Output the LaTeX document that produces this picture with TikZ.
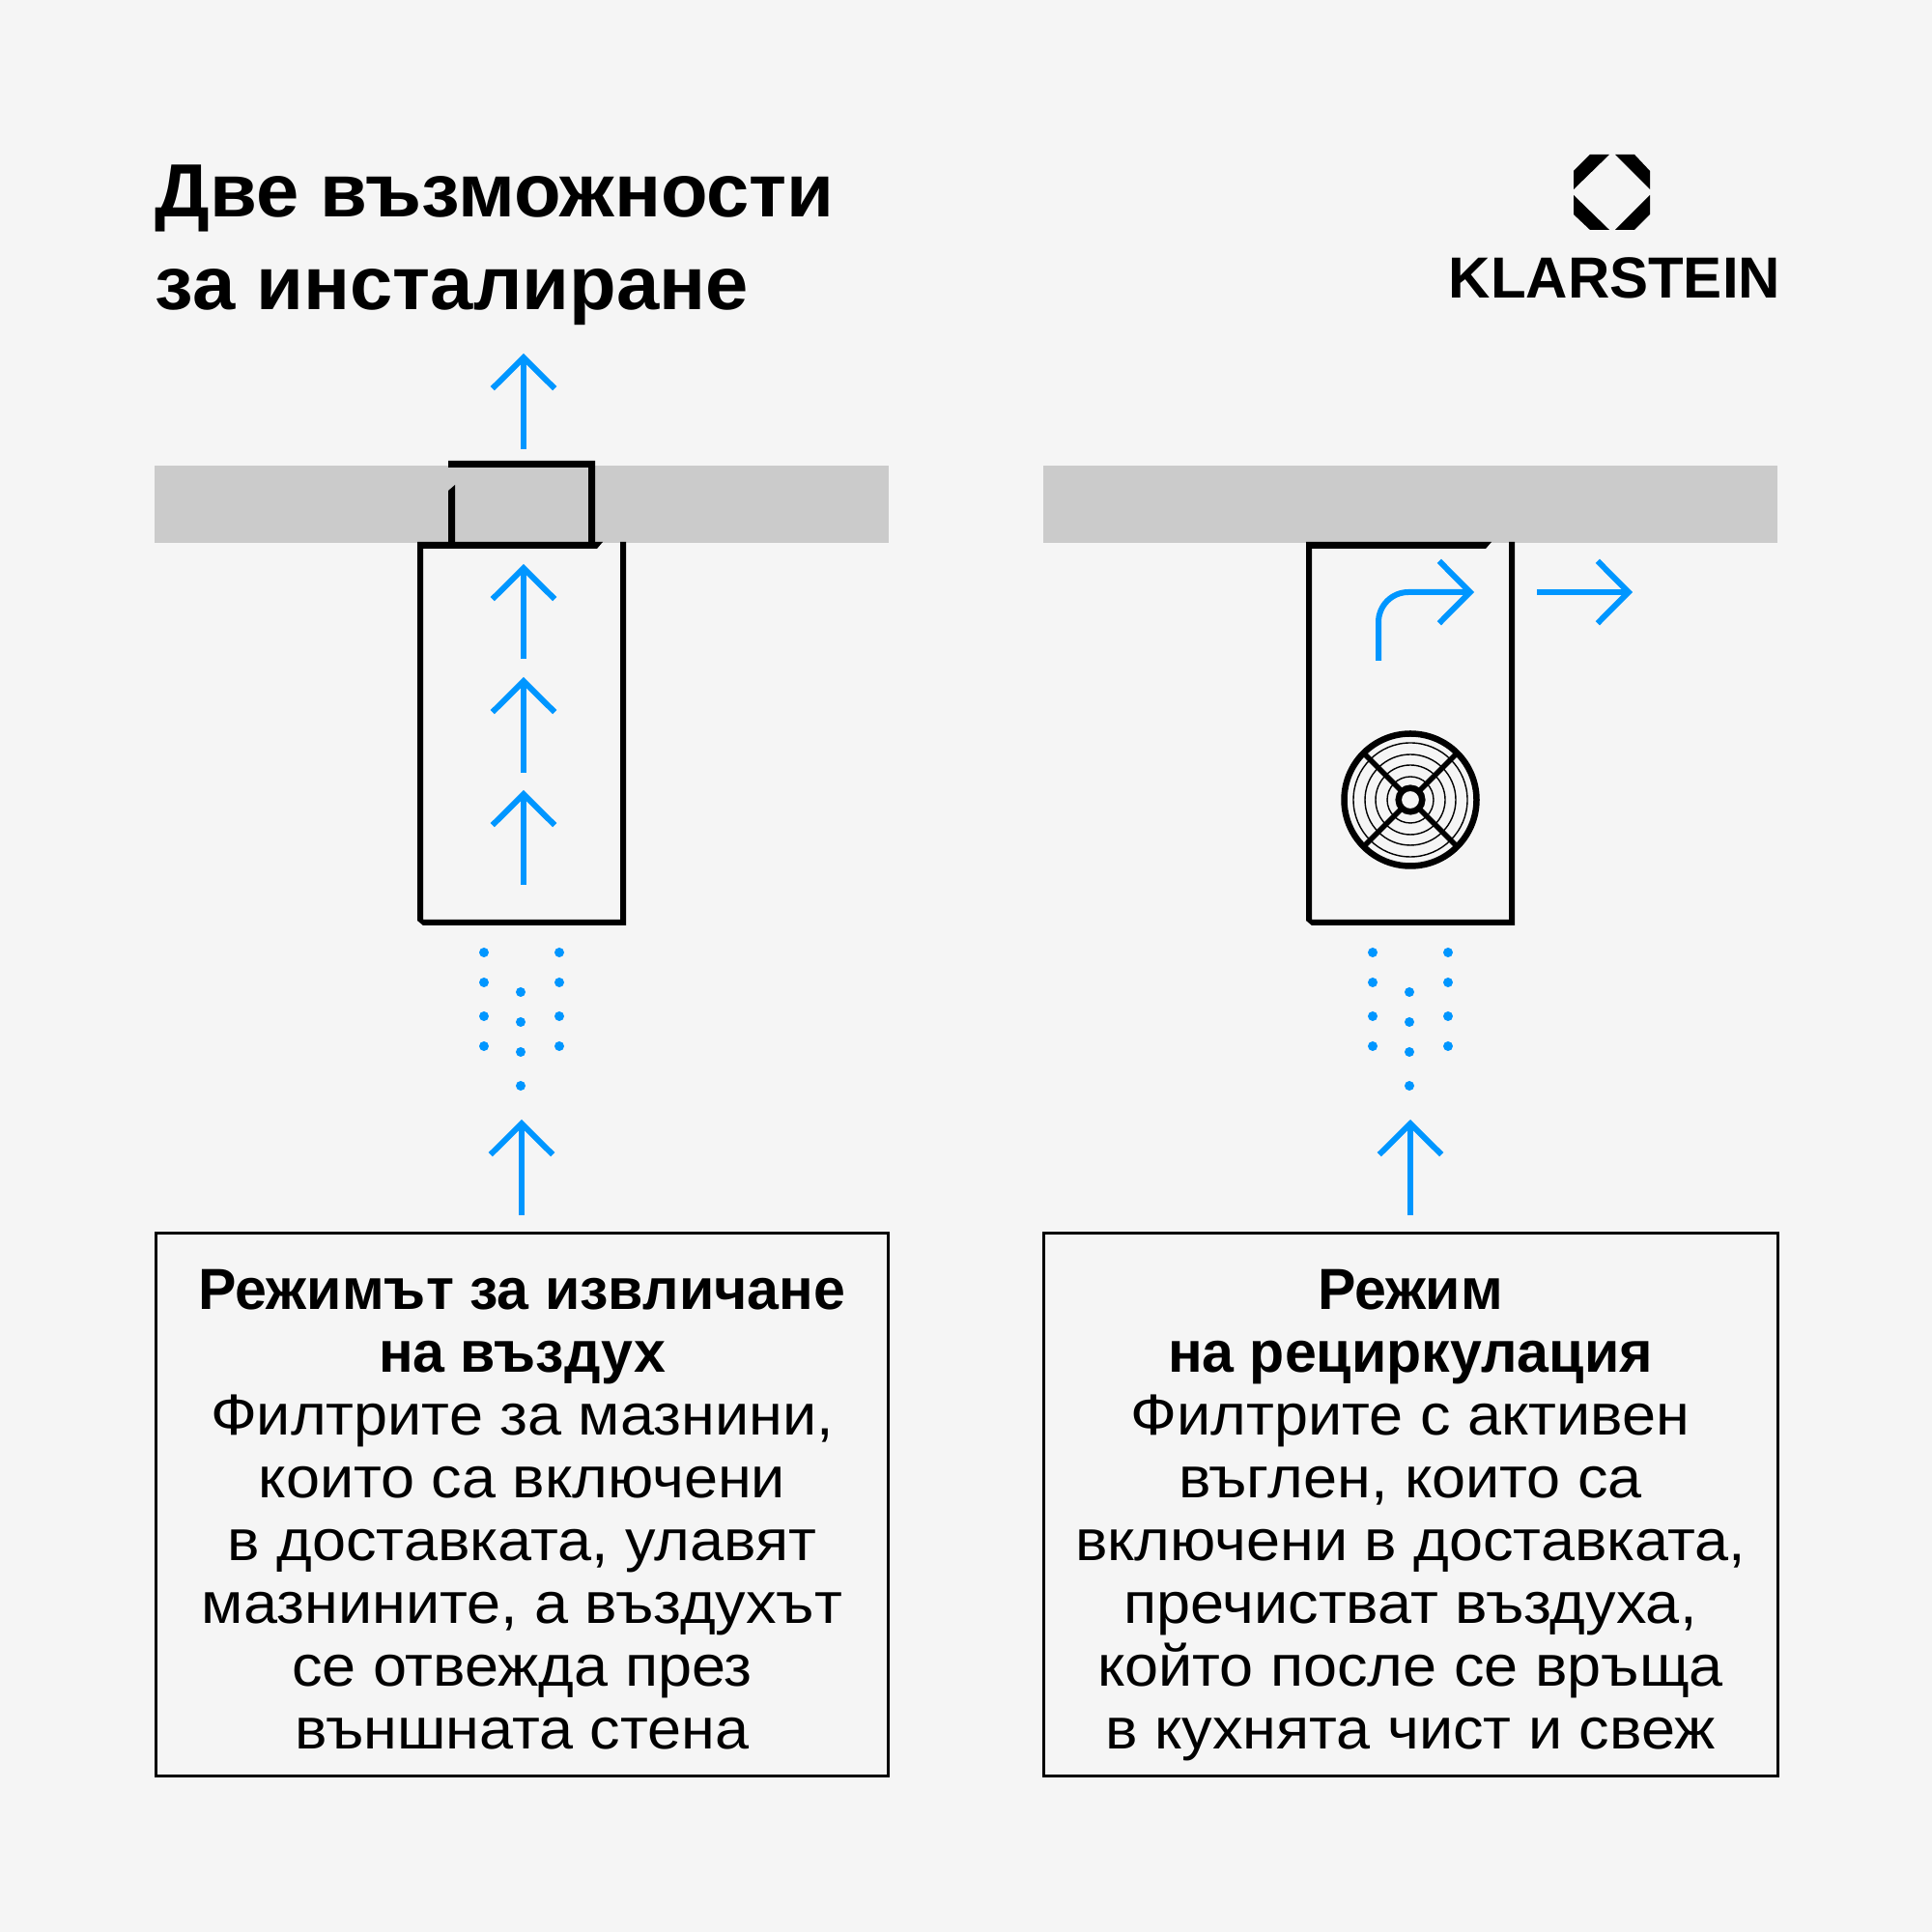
\documentclass[tikz,border=0pt]{standalone}
\usepackage{fontspec}
\setmainfont{Liberation Sans}[FakeStretch=1.05,BoldFeatures={FakeStretch=0.985}]
\newfontfamily\headfont{Liberation Sans}[FakeStretch=1.02]
\newfontfamily\brandfont{Liberation Sans}
\usetikzlibrary{positioning, arrows.meta}
\definecolor{bgcol}{HTML}{F5F5F5}
\definecolor{wallcol}{HTML}{CBCBCB}
\definecolor{flowcol}{HTML}{0096FF}
\tikzset{
    flow/.style={draw=flowcol,line width=0.06cm,-{Straight Barb[length=0.32cm,width=0.645cm]}},
    airdot/.style={fill=flowcol},
    infobox/.style={draw=black,line width=0.03cm,minimum width=7.58cm,minimum height=5.62cm,align=center,inner sep=0pt,text height=5.07cm,text depth=0pt,font=\fontsize{17.07pt}{18.5pt}\selectfont},
    headtext/.style={align=left,inner sep=0pt,anchor=base west,font=\headfont\bfseries\fontsize{22.2pt}{27.3pt}\selectfont}
}
\begin{document}
\begin{tikzpicture}
            \fill[bgcol] (0,0) rectangle (20,20);
            \node[headtext] (titletext) at (1.6,16.795) {Две възможности\\за инсталиране};
            \fill (16.29,18.23) -- (16.46,18.40) -- (16.66,18.40) -- (16.29,18.04) -- cycle;
            \fill (16.72,18.40) -- (16.92,18.40) -- (17.08,18.23) -- (17.08,18.04) -- cycle;
            \fill (16.29,17.98) -- (16.66,17.62) -- (16.46,17.62) -- (16.29,17.78) -- cycle;
            \fill (17.08,17.98) -- (17.08,17.78) -- (16.92,17.62) -- (16.72,17.62) -- cycle;
            \node[inner sep=0pt,anchor=base west,font=\brandfont\bfseries\fontsize{17.07pt}{18.5pt}\selectfont] (brandtext) at (14.99,16.91) {KLARSTEIN};
            \foreach \side in {0,9.2}{
                \begin{scope}[xshift=\side cm]
                    \fill[wallcol] (1.6,14.38) rectangle (9.2,15.18);
                    \fill (6.24,14.39) -- (4.32,14.39) -- (4.32,10.47) -- (4.38,10.42) -- (6.48,10.42) -- (6.48,14.39) -- (6.42,14.39) -- (6.42,10.48) -- (4.38,10.48) -- (4.38,14.32) -- (6.18,14.32) -- cycle;
                    \foreach \y in {10.14,9.83,9.48,9.17}{
                        \fill[airdot] (5.01,\y) circle (0.05);
                        \fill[airdot] (5.79,\y) circle (0.05);
                    }
                    \foreach \y in {9.73,9.42,9.11,8.76}{
                        \fill[airdot] (5.39,\y) circle (0.05);
                    }
                    \draw[flow] (5.40,7.42) -- (5.40,8.41);
                \end{scope}
            }
            % duct through the wall
            \fill (4.64,15.23) -- (6.16,15.23) -- (6.16,14.39) -- (6.09,14.39) -- (6.09,15.16) -- (4.64,15.16) -- cycle;
            \fill (4.64,14.92) -- (4.71,14.98) -- (4.71,14.39) -- (4.64,14.39) -- cycle;
            \draw[flow] (5.42,15.35) -- (5.42,16.34);
            \draw[flow] (5.42,13.18) -- (5.42,14.16);
            \draw[flow] (5.42,12.00) -- (5.42,12.99);
            \draw[flow] (5.42,10.84) -- (5.42,11.82);
            % fan
            \draw[line width=0.065cm] (14.60,11.72) circle (0.685);
            \draw[line width=0.065cm] (14.60,11.72) circle (0.123);
            \foreach \r in {0.24,0.36,0.47,0.59}{
                \draw[line width=0.014cm] (14.60,11.72) circle (\r);
            }
            \foreach \a in {45,135,225,315}{
                \draw[line width=0.055cm] (14.60,11.72)+(\a:0.14) -- +(\a:0.66);
            }
            \draw[flow,rounded corners=0.31cm] (14.27,13.16) |- (15.26,13.87);
            \draw[flow] (15.91,13.87) -- (16.90,13.87);
            \node[infobox] (extractbox) at (5.405,4.425) {\textbf{Режимът за извличане}\\\textbf{на въздух}\\Филтрите за мазнини,\\които са включени\\в доставката, улавят\\мазнините, а въздухът\\се отвежда през\\външната стена};
            \node[infobox,minimum width=7.6cm] (recircbox) at (14.6,4.425) {\textbf{Режим}\\\textbf{на рециркулация}\\Филтрите с активен\\въглен, които са\\включени в доставката,\\пречистват въздуха,\\който после се връща\\в кухнята чист и свеж};
        \end{tikzpicture}
\end{document}
